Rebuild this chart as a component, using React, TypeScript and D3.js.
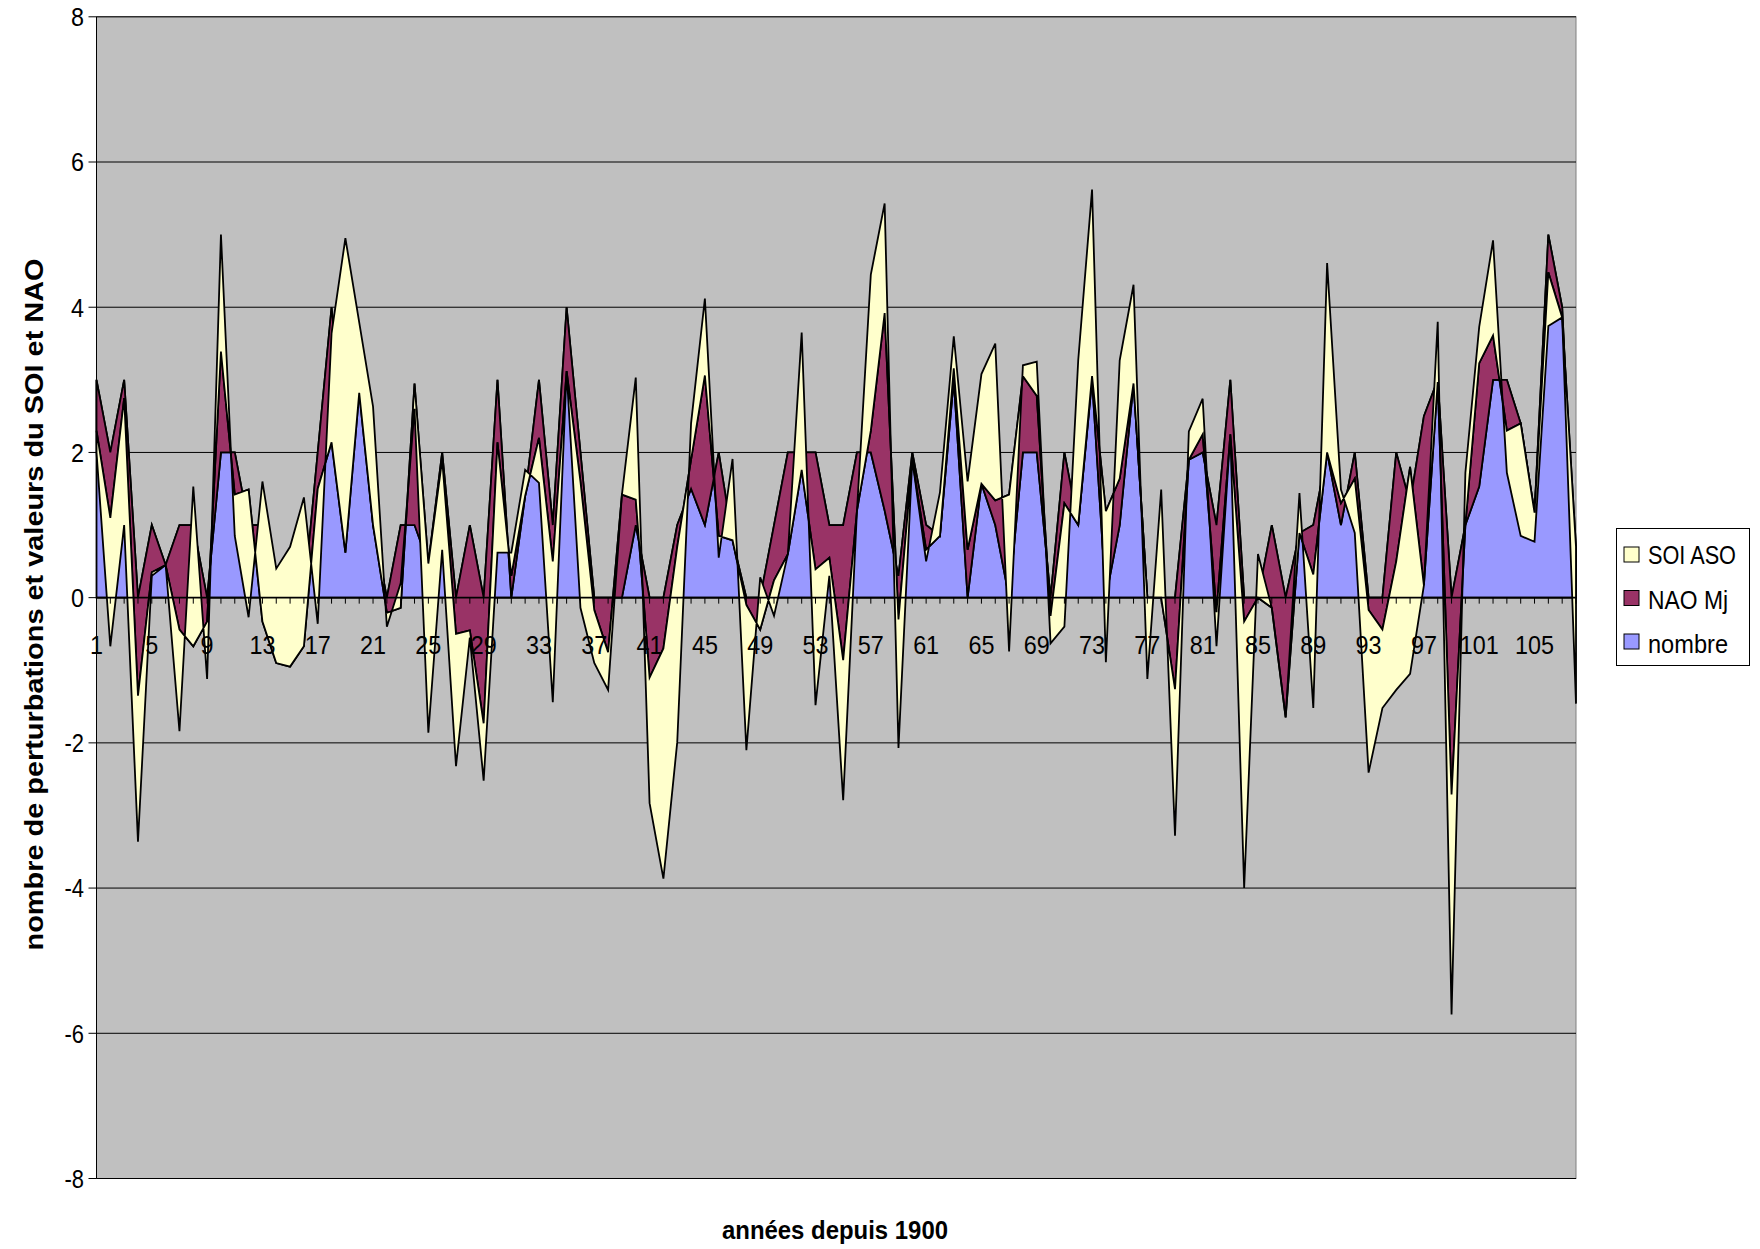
import React from "react";
import * as d3 from "d3";

// ---- data ----
const categories: number[] = d3.range(1, 109);

const nombre: number[] = [
  3, 2, 3, 0, 1, 0.45, 1, 1, 0, 2,
  2, 1, 1, 0, 0, 0, 2, 4, 2, 3,
  1, 0, 1, 1, 0.47, 2, 0, 1, 0, 3,
  0, 1.4, 3, 1, 4, 2, 0, 0, 0, 1,
  0, 0, 1, 1.5, 1, 2, 0.79, 0, 0, 1,
  2, 2, 2, 1, 1, 2, 2, 1.2, 0.3, 2,
  1, 0.85, 3, 0, 1.57, 1, 0, 2, 2, 0,
  2, 1, 3, 0, 1, 2.95, 0, 0, 0, 1.9,
  2, 1, 3, 0, 0, 1, 0, 0.89, 1, 2,
  1, 2, 0, 0, 2, 1.3, 2.5, 3, 0, 1,
  1.53, 3, 3, 2.4, 1.17, 5, 4, 0,
];

const naoMj: number[] = [
  -0.7, -0.9, -0.25, -1.35, -0.65, 0, -1.44, -1.67, -0.33, 1.39,
  -0.58, 0.49, -1.33, -0.9, -0.95, -0.67, -0.5, -1.86, -1.38, -0.18,
  0, -0.21, -1.14, 1.95, 0, -0.1, -0.5, -1.45, -1.73, -0.86,
  0.3, 0, -0.8, -0.5, -0.88, -0.4, -0.17, -0.75, 1.42, 0.35,
  -1.1, -0.7, -0.3, 0.4, 2.06, -1.15, 0, -0.1, -0.44, -0.76,
  -1.4, -0.24, -1.61, -0.45, -1.86, -0.8, 0.3, 2.72, -0.6, -0.1,
  -0.34, 0, 0.16, 0.66, 0, 0.34, 1.42, 1.05, 0.78, -0.25,
  -0.7, 0, 0.05, 1.19, 0.64, 0, 0, 0, -1.26, 0,
  0.25, -1.2, -0.75, -0.33, 0, -1.14, -1.65, 0, -0.68, 0,
  0.3, -0.36, -0.17, -0.44, -1.5, 0.5, -2.33, -0.03, -2.71, 0,
  1.7, 0.61, -0.7, 0, 0, -0.52, -0.14, 0.7,
];

const soiAso: number[] = [
  -0.3, -1.77, -1.75, -2.01, -0.05, 0, -1.4, 2.2, -0.79, 1.61,
  -0.57, -1.76, 1.93, 1.3, 1.65, 2.05, -1.86, 1.5, 4.33, 0.97,
  1.63, -0.19, 0.34, -0.35, -2.33, -1.24, -1.82, -0.1, -0.79, -1.52,
  0.32, 0.36, -0.62, -1.94, 0, -1.74, -0.73, -0.52, 0, 1.68,
  -1.73, -3.17, -2.69, 0.5, 1.06, -0.3, 1.12, -2.0, 0.72, -0.49,
  0, 1.89, -1.87, -0.25, -1.93, 0, 2.15, 1.51, -1.77, 0,
  -0.16, 0.6, 0.44, 0.94, 1.51, 2.16, -2.16, 0.15, 0.47, -0.38,
  -1.7, 2.27, 2.57, -2.08, 1.63, 1.36, -1.12, 1.49, -2.02, 0.39,
  0.49, -0.47, 0, -3.67, 0.6, 0, 0, 0.55, -1.84, 2.61,
  0.19, -0.75, -2.24, -1.08, -1.77, -2.85, 0, 0.83, -3.03, 0.72,
  0.5, 1.31, -0.58, -1.55, -0.4, -0.74, 0, -2.16,
];

const yTicks: number[] = [-8, -6, -4, -2, 0, 2, 4, 6, 8];
const xTickLabels: number[] = d3.range(1, 109, 4);
const seriesNames: string[] = ["nombre", "NAO Mj", "SOI ASO"];
const legendOrder: string[] = ["SOI ASO", "NAO Mj", "nombre"];
const legendWidths: number[] = [88, 80, 80];

// ---- layout / styles ----
const W = 1760;
const H = 1249;
const PL = 96.5;
const PR = 1576;
const PT = 16.8;
const PB = 1178.5;
const FONT = "'Liberation Sans Narrow','Arial Narrow','Liberation Sans',Arial,sans-serif";
const COLORS: Record<string, string> = {
  nombre: "#9999FF",
  "NAO Mj": "#993366",
  "SOI ASO": "#FFFFCC",
};

// width of a numeric label in a narrow face
const numWidth = (s: string) =>
  s.split("").reduce((acc, ch) => acc + (ch === "-" ? 6.5 : 13), 0);

export default function App() {
  const x = d3.scalePoint<number>().domain(categories).range([PL, PR]).padding(0);
  const y = d3.scaleLinear().domain([-8, 8]).range([PB, PT]);

  const rows = categories.map((c, i) => ({
    cat: c,
    nombre: nombre[i],
    "NAO Mj": naoMj[i],
    "SOI ASO": soiAso[i],
  }));
  const stacked = d3
    .stack<any>()
    .keys(seriesNames)
    .offset(d3.stackOffsetNone)
    .order(d3.stackOrderNone)(rows);

  const area = d3
    .area<any>()
    .x((d) => x(d.data.cat) as number)
    .y0((d) => y(d[0]))
    .y1((d) => y(d[1]));

  const y0 = y(0);

  return (
    <svg width={W} height={H} style={{ display: "block", position: "absolute", left: 0, top: 0 }}>
      <rect x={0} y={0} width={W} height={H} fill="#ffffff" />
      {/* plot area */}
      <rect x={PL} y={PT} width={PR - PL} height={PB - PT} fill="#C0C0C0" stroke="#808080" strokeWidth={1} />
      {yTicks.map((t) => (
        <line key={"g" + t} x1={PL} x2={PR} y1={y(t)} y2={y(t)} stroke="#000" strokeWidth={1} />
      ))}
      {/* areas */}
      {stacked.map((s) => (
        <path
          key={s.key}
          d={area(s as any) || ""}
          fill={COLORS[s.key]}
          stroke="#000"
          strokeWidth={1.8}
          strokeLinejoin="miter"
        />
      ))}
      {/* value axis */}
      <line x1={PL} x2={PL} y1={PT} y2={PB} stroke="#000" strokeWidth={1} />
      {yTicks.map((t) => (
        <g key={"yt" + t}>
          <line x1={PL - 8} x2={PL} y1={y(t)} y2={y(t)} stroke="#000" strokeWidth={1} />
          <text
            x={84}
            y={y(t)}
            dy="0.36em"
            textAnchor="end"
            fontFamily={FONT}
            fontSize={26}
            fill="#000"
            textLength={numWidth(String(t))}
            lengthAdjust="spacingAndGlyphs"
          >
            {t}
          </text>
        </g>
      ))}
      {/* category axis at 0 */}
      <line x1={PL} x2={PR} y1={y0} y2={y0} stroke="#000" strokeWidth={1.6} />
      {categories.map((c) => (
        <line key={"xt" + c} x1={x(c)} x2={x(c)} y1={y0} y2={y0 + 6} stroke="#000" strokeWidth={1} />
      ))}
      {xTickLabels.map((c) => (
        <text
          key={"xl" + c}
          x={x(c)}
          y={654}
          textAnchor="middle"
          fontFamily={FONT}
          fontSize={26}
          fill="#000"
          textLength={numWidth(String(c))}
          lengthAdjust="spacingAndGlyphs"
        >
          {c}
        </text>
      ))}
      {/* titles */}
      <text
        x={835}
        y={1239}
        textAnchor="middle"
        fontFamily={FONT}
        fontWeight="bold"
        fontSize={26}
        fill="#000"
        textLength={226}
        lengthAdjust="spacingAndGlyphs"
      >
        années depuis 1900
      </text>
      <text
        transform="translate(43,604.5) rotate(-90)"
        textAnchor="middle"
        fontFamily={FONT}
        fontWeight="bold"
        fontSize={26}
        fill="#000"
        textLength={692}
        lengthAdjust="spacingAndGlyphs"
      >
        nombre de perturbations et valeurs du SOI et NAO
      </text>
      {/* legend */}
      <rect x={1616.5} y={528.5} width={133} height={137} fill="#fff" stroke="#000" strokeWidth={1} />
      {legendOrder.map((name, i) => (
        <g key={"lg" + name}>
          <rect x={1624} y={547 + i * 43.5} width={15} height={15} fill={COLORS[name]} stroke="#000" strokeWidth={1} />
          <text
            x={1648}
            y={564 + i * 44.5}
            fontFamily={FONT}
            fontSize={25}
            fill="#000"
            textLength={legendWidths[i]}
            lengthAdjust="spacingAndGlyphs"
          >
            {name}
          </text>
        </g>
      ))}
    </svg>
  );
}
